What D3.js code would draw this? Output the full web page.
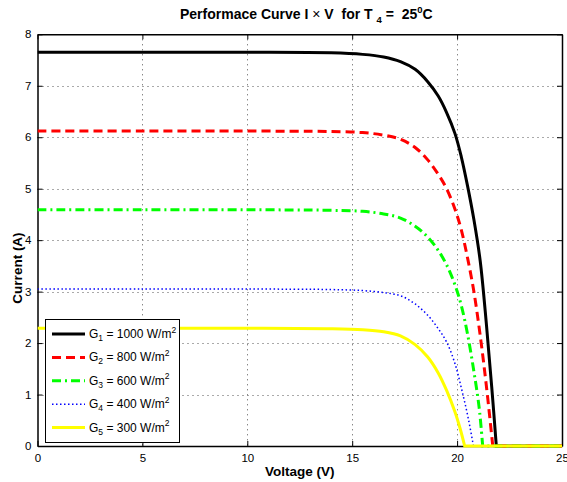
<!DOCTYPE html>
<html><head><meta charset="utf-8">
<script src="https://cdn.jsdelivr.net/npm/d3@7"></script>
<style>body{margin:0;background:#fff} text{font-family:"Liberation Sans",Arial,Helvetica,sans-serif}</style>
</head><body><svg id="c" width="567" height="482"></svg>
<script>
// ---- data ----
const xTicks = [0, 5, 10, 15, 20, 25];
const yTicks = [0, 1, 2, 3, 4, 5, 6, 7, 8];
const seriesSubs = ["1", "2", "3", "4", "5"];
const seriesIrr = ["1000", "800", "600", "400", "300"];
const v1 = [0, 5, 10, 14, 15.5, 16.5, 17.3, 18, 18.6, 19.1, 19.5, 19.9, 20.2, 20.5, 20.8, 21.1, 21.4, 21.65, 21.87, 25];
const i1 = [7.65, 7.65, 7.65, 7.64, 7.61, 7.56, 7.47, 7.32, 7.08, 6.80, 6.48, 6.07, 5.62, 5.05, 4.4, 3.6, 2.35, 1.15, 0, 0];
const v2 = [0, 5, 10, 14, 15.5, 16.5, 17.3, 18, 18.6, 19.1, 19.5, 19.9, 20.2, 20.5, 20.8, 21.1, 21.4, 21.7, 25];
const i2 = [6.12, 6.12, 6.12, 6.11, 6.09, 6.04, 5.96, 5.8, 5.56, 5.28, 5.0, 4.6, 4.2, 3.65, 3.0, 2.15, 1.15, 0, 0];
const v3 = [0, 5, 10, 14, 15.5, 16.5, 17.3, 18, 18.6, 19.1, 19.5, 19.9, 20.2, 20.5, 20.8, 21.05, 21.22, 25];
const i3 = [4.59, 4.59, 4.59, 4.58, 4.56, 4.51, 4.43, 4.27, 4.06, 3.80, 3.52, 3.13, 2.73, 2.17, 1.45, 0.75, 0, 0];
const v4 = [0, 5, 10, 14, 15.5, 16.5, 17.3, 18, 18.6, 19.1, 19.5, 19.9, 20.2, 20.5, 20.78, 25];
const i4 = [3.05, 3.05, 3.05, 3.04, 3.02, 2.98, 2.92, 2.76, 2.54, 2.28, 2.02, 1.6, 1.13, 0.6, 0, 0];
const v5 = [0, 5, 10, 14, 15.5, 16.5, 17.3, 18, 18.6, 19.1, 19.5, 19.9, 20.15, 20.36, 25];
const i5 = [2.29, 2.29, 2.29, 2.28, 2.26, 2.22, 2.14, 1.97, 1.73, 1.42, 1.08, 0.66, 0.33, 0, 0];

const voltages = [v1, v2, v3, v4, v5];
const currents = [i1, i2, i3, i4, i5];
const colors = ["#000000", "#ff0000", "#00ff00", "#0000ff", "#ffff00"];
const dashes = [null, "9,5", "9,4,2,4", "1.5,2.5", null];
const widths = [3, 3, 3, 1.5, 3];

// ---- layout ----
const svg = d3.select("#c");
svg.append("rect").attr("width", 567).attr("height", 482).attr("fill", "#fff");
const L = 37.5, R = 562, T = 34.3, B = 446;
const x = d3.scaleLinear().domain([0, 25]).range([L, R]);
const y = d3.scaleLinear().domain([0, 8]).range([B, T]);

// grid
const grid = svg.append("g").attr("stroke", "#555").attr("stroke-width", 1).attr("stroke-dasharray", "1,4");
grid.selectAll(".gx").data(xTicks.slice(1, -1)).enter().append("line")
  .attr("x1", d => Math.round(x(d)) + 0.5).attr("x2", d => Math.round(x(d)) + 0.5).attr("y1", T).attr("y2", B);
grid.selectAll(".gy").data(yTicks.slice(1, -1)).enter().append("line")
  .attr("y1", d => Math.round(y(d)) + 0.5).attr("y2", d => Math.round(y(d)) + 0.5).attr("x1", L).attr("x2", R);

// axes
const fmt = d3.format("d");
const ax = svg.append("g").attr("transform", `translate(0,${B})`)
  .call(d3.axisBottom(x).tickValues(xTicks).tickSizeInner(-5).tickSizeOuter(0).tickPadding(8).tickFormat(fmt));
const ay = svg.append("g").attr("transform", `translate(${L},0)`)
  .call(d3.axisLeft(y).tickValues(yTicks).tickSizeInner(-5).tickSizeOuter(0).tickPadding(6).tickFormat(fmt));
const axT = svg.append("g").attr("transform", `translate(0,${T})`)
  .call(d3.axisTop(x).tickValues(xTicks).tickSizeInner(-5).tickSizeOuter(0).tickFormat(""));
const ayR = svg.append("g").attr("transform", `translate(${R},0)`)
  .call(d3.axisRight(y).tickValues(yTicks).tickSizeInner(-5).tickSizeOuter(0).tickFormat(""));
[ax, ay, axT, ayR].forEach(g => {
  g.select(".domain").attr("stroke", "#000").attr("stroke-width", 1.5);
  g.selectAll(".tick line").attr("stroke", "#000");
  g.selectAll("text").attr("font-size", 11.5).attr("fill", "#000")
    .attr("font-family", '"Liberation Sans",Arial,sans-serif');
});

// curves
svg.append("clipPath").attr("id", "clip").append("rect")
  .attr("x", L).attr("y", T - 2).attr("width", R - L).attr("height", B - T + 4);
const smooth = d3.line().x(d => x(d[0])).y(d => y(d[1])).curve(d3.curveCatmullRom.alpha(0.5));
const cg = svg.append("g").attr("clip-path", "url(#clip)");
voltages.forEach((vs, k) => {
  const pts = vs.map((v, j) => [v, currents[k][j]]);
  const knee = pts.slice(0, -1);           // up to open-circuit voltage
  const tail = pts[pts.length - 1];        // flat zero segment to the axis end
  const d = smooth(knee) + "L" + x(tail[0]) + "," + y(tail[1]);
  cg.append("path").attr("d", d).attr("fill", "none")
    .attr("stroke", colors[k]).attr("stroke-width", widths[k])
    .attr("stroke-dasharray", dashes[k]);
});

// legend
const lg = svg.append("g");
lg.append("rect").attr("x", 45.5).attr("y", 319.5).attr("width", 134).attr("height", 123)
  .attr("fill", "#fff").attr("stroke", "#000").attr("stroke-width", 1);
const rowY = d3.scalePoint().domain(d3.range(5)).range([334, 427.5]);
seriesSubs.forEach((s, k) => {
  const yy = rowY(k);
  lg.append("line").attr("x1", 52).attr("x2", 85).attr("y1", yy).attr("y2", yy)
    .attr("stroke", colors[k]).attr("stroke-width", widths[k]).attr("stroke-dasharray", dashes[k]);
  const t = lg.append("text").attr("x", 89).attr("y", yy + 4).attr("font-size", 12).style("white-space", "pre");
  t.append("tspan").text("G");
  t.append("tspan").attr("font-size", 8.5).attr("dy", 3).text(s);
  t.append("tspan").attr("dy", -3).text(" = " + seriesIrr[k] + " W/m");
  t.append("tspan").attr("font-size", 8.5).attr("dy", -5.5).text("2");
});

// title
const tt = svg.append("text").attr("x", 180).attr("y", 18.5).attr("font-size", 14).attr("font-weight", "bold")
  .style("white-space", "pre");
tt.append("tspan").text("Performace Curve I ");
tt.append("tspan").attr("font-weight", "normal").text("×");
tt.append("tspan").text(" V  for T ");
tt.append("tspan").attr("font-size", 9.5).attr("dy", 4).text("4");
tt.append("tspan").attr("dy", -4).text(" =  25");
tt.append("tspan").attr("font-size", 9.5).attr("dy", -5.5).text("0");
tt.append("tspan").attr("dy", 5.5).text("C");

// axis labels
svg.append("text").attr("x", x(12.5)).attr("y", 476).attr("text-anchor", "middle")
  .attr("font-size", 13.5).attr("font-weight", "bold").text("Voltage (V)");
svg.append("text").attr("transform", "translate(22,268) rotate(-90)").attr("text-anchor", "middle")
  .attr("font-size", 13.5).attr("font-weight", "bold").text("Current (A)");
</script></body></html>
